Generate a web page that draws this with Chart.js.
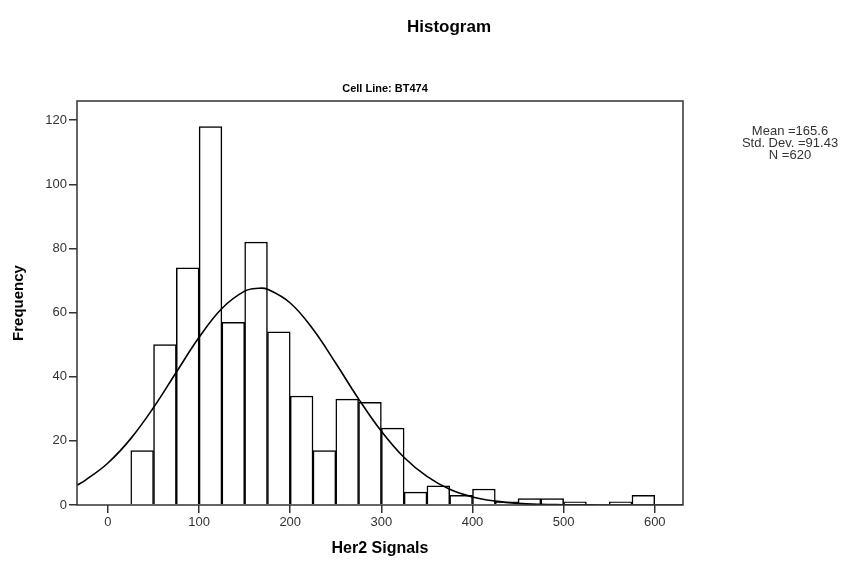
<!DOCTYPE html>
<html>
<head>
<meta charset="UTF-8">
<title>Histogram</title>
<script src="https://cdn.jsdelivr.net/npm/chart.js@4.4.0/dist/chart.umd.min.js"></script>
<style>
  body { margin: 0; background: #fff; }
</style>
</head>
<body>
<canvas id="histChart" width="856" height="562"></canvas>
<script>
// bins of width 25, lower edges
const binStart = [25, 50, 75, 100, 125, 150, 175, 200, 225, 250, 275, 300,
                  325, 350, 375, 400, 425, 450, 475, 500, 525, 550, 575];
const counts   = [17, 50, 74, 118, 57, 82, 54, 34, 17, 33, 32, 24,
                  4, 6, 3, 5, 1, 2, 2, 1, 0, 1, 3];

// normal curve
const curveX = [-34, -25, 0, 25, 50, 75, 100, 125, 150, 165.6, 175, 200, 225, 250,
                275, 300, 325, 350, 375, 400, 425, 450, 475, 500, 525, 550, 575, 600, 631];
const curveY = [6.2, 7.7, 13.1, 20.7, 30.4, 41.4, 52.3, 61.3, 66.7, 67.6, 67.3, 63.0, 54.8, 44.2,
                33.1, 23.0, 14.8, 8.9, 4.9, 2.5, 1.2, 0.5, 0.2, 0.1, 0.03, 0, 0, 0, 0];

const xTicks = [0, 100, 200, 300, 400, 500, 600];
const yTicks = [0, 20, 40, 60, 80, 100, 120];
const statLines = ['Mean =165.6', 'Std. Dev. =91.43', 'N =620'];

const FONT = 'Arial, "Liberation Sans", sans-serif';

const textPlugin = {
    id: 'textPlugin',
    afterDraw(chart) {
        const ctx = chart.ctx;
        const a = chart.chartArea;
        ctx.save();
        // frame round the plot
        ctx.strokeStyle = '#333';
        ctx.lineWidth = 1.5;
        ctx.strokeRect(a.left, a.top, a.right - a.left, a.bottom - a.top);

        ctx.fillStyle = '#000';
        ctx.textAlign = 'center';
        ctx.textBaseline = 'middle';
        ctx.font = 'bold 17px ' + FONT;
        ctx.fillText('Histogram', 449, 27);
        ctx.font = 'bold 11px ' + FONT;
        ctx.fillText('Cell Line: BT474', 385, 89);

        ctx.fillStyle = '#333';
        ctx.font = '13px ' + FONT;
        statLines.forEach((s, i) => ctx.fillText(s, 790, 131 + i * 12));
        ctx.restore();
    }
};

const ctx = document.getElementById('histChart').getContext('2d');

new Chart(ctx, {
    data: {
        datasets: [
            {
                type: 'line',
                data: curveX.map((x, i) => ({ x: x, y: curveY[i] })),
                borderColor: '#000',
                borderWidth: 1.6,
                pointRadius: 0,
                tension: 0.4,
                fill: false,
                order: 0
            },
            {
                type: 'bar',
                data: binStart.map((b, i) => ({ x: b + 12.5, y: counts[i] })),
                backgroundColor: '#fff',
                borderColor: '#000',
                borderWidth: 1.5,
                barPercentage: 1,
                categoryPercentage: 1,
                order: 1
            }
        ]
    },
    options: {
        responsive: false,
        animation: false,
        devicePixelRatio: 1,
        layout: { padding: { left: 0, top: 101, right: 173, bottom: 0 } },
        plugins: {
            legend: { display: false },
            tooltip: { enabled: false }
        },
        scales: {
            x: {
                type: 'linear',
                min: -34,
                max: 631,
                offset: false,
                afterBuildTicks: s => { s.ticks = xTicks.map(v => ({ value: v })); },
                afterFit: s => { s.height = 57; },
                border: { display: false },
                grid: { offset: false, drawOnChartArea: false, drawTicks: true, tickLength: 8, color: '#333', lineWidth: 1.5 },
                ticks: { color: '#333', font: { family: FONT, size: 13 }, padding: 2, maxRotation: 0 },
                title: { display: true, text: 'Her2 Signals', color: '#000',
                         font: { family: FONT, size: 16, weight: 'bold' }, padding: { top: 10 } }
            },
            y: {
                type: 'linear',
                min: 0,
                max: 126,
                afterBuildTicks: s => { s.ticks = yTicks.map(v => ({ value: v })); },
                afterFit: s => { s.width = 77; },
                border: { display: false },
                grid: { drawOnChartArea: false, drawTicks: true, tickLength: 8, color: '#333', lineWidth: 1.5 },
                ticks: { color: '#333', font: { family: FONT, size: 13 }, padding: 2 },
                title: { display: true, text: 'Frequency', color: '#000',
                         font: { family: FONT, size: 15, weight: 'bold' }, padding: { top: 10 } }
            }
        }
    },
    plugins: [textPlugin]
});
</script>
</body>
</html>
